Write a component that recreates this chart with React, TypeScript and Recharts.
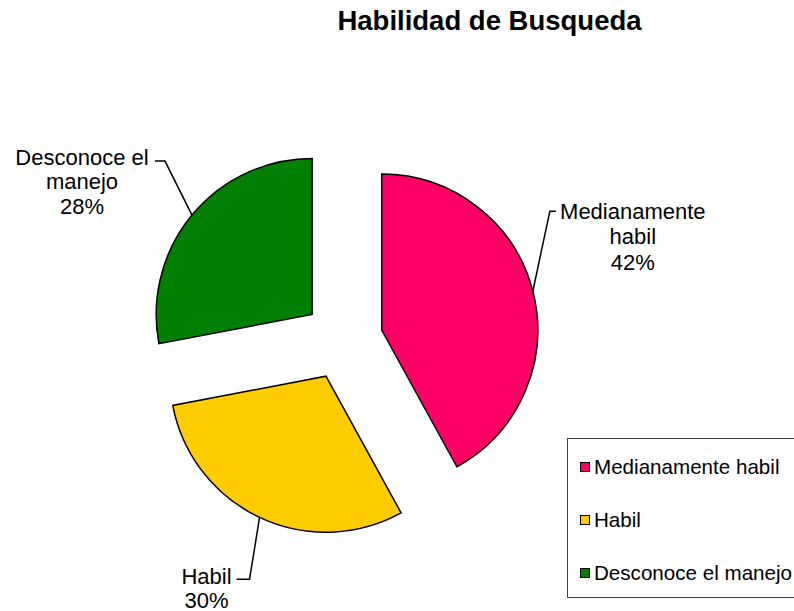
import React from 'react';
import { PieChart, Pie, Sector, Legend } from 'recharts';

const title = 'Habilidad de Busqueda';
const categories = ['Medianamente habil', 'Habil', 'Desconoce el manejo'];
const values = [42, 30, 28];
const colors = ['#FF0066', '#FFCC00', '#008000'];
const labelLines = [['Medianamente', 'habil'], ['Habil'], ['Desconoce el', 'manejo']];

const data = categories.map((name, i) => ({ name, value: values[i] }));

const FONT = '"Liberation Sans", Arial, sans-serif';
const EXPLODE = 40;
const RAD = Math.PI / 180;

// label layout: elbow offset from arc point, tick end x offset from elbow, text center offset from elbow, line spacing
const labelLayout = [
  { elbow: [17, -80], tick: 6, text: [83, 0], gap: 25.5 },
  { elbow: [-10, 62], tick: -13, text: [-43, -3], gap: 24 },
  { elbow: [-27, -54], tick: -10, text: [-83, -4], gap: 24.5 },
];

const polar = (cx: number, cy: number, r: number, angle: number) => ({
  x: cx + r * Math.cos(-angle * RAD),
  y: cy + r * Math.sin(-angle * RAD),
});

const renderSlice = (props: any) => {
  const { cx, cy, midAngle, innerRadius, outerRadius, startAngle, endAngle, index, percent } = props;
  const c = polar(cx, cy, EXPLODE, midAngle);
  const arc = polar(c.x, c.y, outerRadius, midAngle);
  const L = labelLayout[index];
  const ex = arc.x + L.elbow[0];
  const ey = arc.y + L.elbow[1];
  const tx = ex + L.text[0];
  const ty = ey + L.text[1];
  const lines = [...labelLines[index], `${Math.round(percent * 100)}%`];
  return (
    <g key={`slice-${index}`}>
      <Sector
        cx={c.x}
        cy={c.y}
        innerRadius={innerRadius}
        outerRadius={outerRadius}
        startAngle={startAngle}
        endAngle={endAngle}
        fill={colors[index]}
        stroke="#000"
        strokeWidth={1.5}
      />
      <polyline
        points={`${arc.x},${arc.y} ${ex},${ey} ${ex + L.tick},${ey}`}
        fill="none"
        stroke="#000"
        strokeWidth={1.5}
      />
      <text x={tx} y={ty} textAnchor="middle" fontFamily={FONT} fontSize={22} fill="#000">
        {lines.map((t, i) => (
          <tspan key={i} x={tx} y={ty + i * L.gap} dominantBaseline="central">
            {t}
          </tspan>
        ))}
      </text>
    </g>
  );
};

const renderLegend = (props: any) => {
  const payload = [...(props.payload || [])].sort(
    (a: any, b: any) => categories.indexOf(a.value) - categories.indexOf(b.value)
  );
  return (
    <div
      style={{
        width: 260,
        height: 157,
        border: '1px solid #404040',
        paddingTop: 1,
        paddingLeft: 12,
        boxSizing: 'content-box',
        background: '#fff',
      }}
    >
      {payload.map((entry: any, i: number) => {
        const idx = categories.indexOf(entry.value);
        return (
          <div key={i} style={{ height: 53, display: 'flex', alignItems: 'center' }}>
            <span
              style={{
                display: 'inline-block',
                width: 8,
                height: 8,
                border: '1.5px solid #000',
                background: colors[idx >= 0 ? idx : i],
                marginRight: 4,
              }}
            />
            <span style={{ fontFamily: FONT, fontSize: 20.6, color: '#000', whiteSpace: 'nowrap' }}>
              {entry.value}
            </span>
          </div>
        );
      })}
    </div>
  );
};

export default function App() {
  return (
    <div
      style={{
        position: 'absolute',
        left: 0,
        top: 0,
        width: 794,
        height: 611,
        overflow: 'hidden',
        background: '#fff',
      }}
    >
      <div
        style={{
          position: 'absolute',
          left: 0,
          top: 5,
          width: 979,
          textAlign: 'center',
          fontFamily: FONT,
          fontWeight: 'bold',
          fontSize: 27.5,
          color: '#000',
          whiteSpace: 'nowrap',
        }}
      >
        {title}
      </div>
      <PieChart width={794} height={611} style={{ position: 'absolute', left: 0, top: 0 }}>
        <Pie
          data={data}
          dataKey="value"
          nameKey="name"
          cx={338}
          cy={335}
          outerRadius={156}
          startAngle={90}
          endAngle={-270}
          fill="none"
          stroke="none"
          label={renderSlice}
          labelLine={false}
          isAnimationActive={false}
        />
        <Legend
          content={renderLegend}
          layout="vertical"
          wrapperStyle={{ position: 'absolute', left: 567, top: 438, width: 280, height: 159 }}
        />
      </PieChart>
    </div>
  );
}
